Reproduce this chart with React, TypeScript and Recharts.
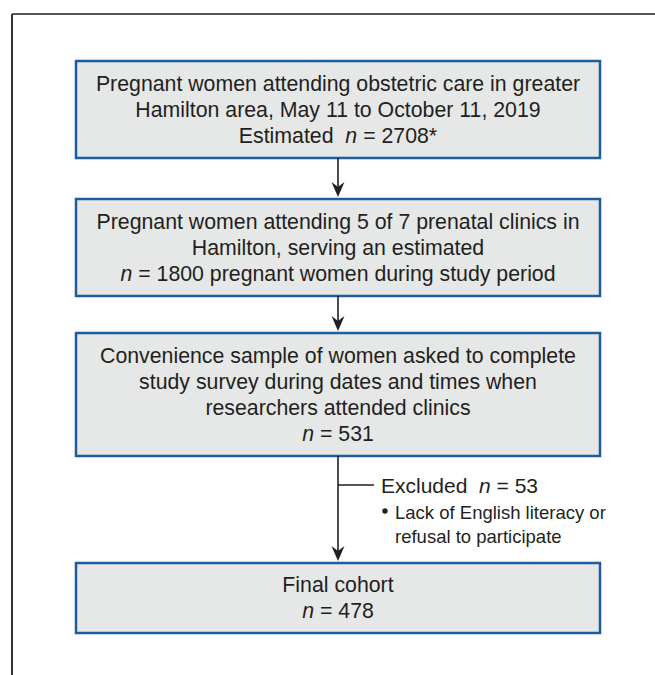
import React from "react";
import { ComposedChart, XAxis, YAxis, ReferenceArea, ReferenceLine } from "recharts";

// ---- data (text and counts) ----
const stageTitles: string[][] = [
  ["Pregnant women attending obstetric care in greater", "Hamilton area, May 11 to October 11, 2019", "Estimated  n = {N}*"],
  ["Pregnant women attending 5 of 7 prenatal clinics in", "Hamilton, serving an estimated", "n = {N} pregnant women during study period"],
  ["Convenience sample of women asked to complete", "study survey during dates and times when", "researchers attended clinics", "n = {N}"],
  ["Final cohort", "n = {N}"],
];
const stageN: number[] = [2708, 1800, 531, 478];
const excludedLabel = "Excluded";
const excludedN = 53;
const excludedReasons: string[] = ["Lack of English literacy or", "refusal to participate"];

// ---- layout (page geometry, in axis units = px) ----
const W = 655;
const H = 675;
const boxX: [number, number] = [76, 600];
const boxY: [number, number][] = [
  [61, 158],
  [199, 296],
  [333, 456],
  [563, 633],
];
const spineX = 338;
const branchY = 485;
const branchEndX = 374;
const frameX = 12;
const frameY = 14;

const FONT = "'Liberation Sans', Arial, Helvetica, sans-serif";
const TEXT = "#231f20";
const BOX_FILL = "#e6e7e7";
const BOX_STROKE = "#1d5c9e";
const LINE_H = 26;

function renderLine(str: string, n: number, key: number, x: number, y: number, size: number) {
  const s = str.replace("{N}", String(n));
  const parts = s.split(/(\bn(?= =))/);
  return (
    <text key={key} x={x} y={y} textAnchor="middle" dominantBaseline="central" fontFamily={FONT} fontSize={size} fill={TEXT} style={{ whiteSpace: "pre" }}>
      {parts.map((p, i) =>
        p === "n" ? (
          <tspan key={i} fontStyle="italic">n</tspan>
        ) : (
          <tspan key={i}>{p}</tspan>
        )
      )}
    </text>
  );
}

const makeBoxLabel = (idx: number) => (props: any) => {
  const vb = props.viewBox || {};
  const cx = vb.x + vb.width / 2;
  const cy = vb.y + vb.height / 2;
  const lines = stageTitles[idx];
  const start = cy - ((lines.length - 1) * LINE_H) / 2;
  return <g>{lines.map((l, i) => renderLine(l, stageN[idx], i, cx, start + i * LINE_H, 21.3))}</g>;
};

const arrowShape = (props: any) => {
  const { x1, y1, x2, y2 } = props;
  const tipY = y2 - 2;
  return (
    <g>
      <line x1={x1} y1={y1} x2={x2} y2={tipY - 6} stroke={TEXT} strokeWidth={1.6} />
      <polygon points={`${x2},${tipY} ${x2 - 6.5},${tipY - 15} ${x2},${tipY - 10} ${x2 + 6.5},${tipY - 15}`} fill={TEXT} />
    </g>
  );
};

const branchShape = (props: any) => {
  const { x1, y1, x2, y2 } = props;
  const tx = x2 + 7;
  return (
    <g>
      <line x1={x1} y1={y1} x2={x2} y2={y2} stroke={TEXT} strokeWidth={1.4} />
      <text x={tx} y={y2} dominantBaseline="central" fontFamily={FONT} fontSize={21} fill={TEXT} style={{ whiteSpace: "pre" }}>
        <tspan>{excludedLabel + "  "}</tspan>
        <tspan fontStyle="italic">n</tspan>
        <tspan>{" = " + excludedN}</tspan>
      </text>
      {excludedReasons.map((r, i) => (
        <g key={i}>
          {i === 0 && <circle cx={tx + 4} cy={y2 + 26} r={2.7} fill={TEXT} />}
          <text x={tx + 14} y={y2 + 27 + i * 24} dominantBaseline="central" fontFamily={FONT} fontSize={18.5} fill={TEXT}>
            {r}
          </text>
        </g>
      ))}
    </g>
  );
};

const plainLine = (color: string, width: number) => (props: any) => {
  const { x1, y1, x2, y2 } = props;
  return <line x1={x1} y1={y1} x2={x2} y2={y2} stroke={color} strokeWidth={width} />;
};

export default function App() {
  return (
    <div style={{ position: "absolute", left: 0, top: 0, width: W, height: H, background: "#fff" }}>
      <ComposedChart width={W} height={H} data={[]} margin={{ top: 0, right: 0, bottom: 0, left: 0 }}>
        <XAxis type="number" dataKey="x" domain={[0, W]} hide allowDataOverflow />
        <YAxis type="number" dataKey="y" domain={[0, H]} reversed hide allowDataOverflow />
        {/* frame */}
        <ReferenceLine segment={[{ x: frameX, y: frameY }, { x: W, y: frameY }]} shape={plainLine("#555555", 2)} ifOverflow="visible" />
        <ReferenceLine segment={[{ x: frameX, y: frameY }, { x: frameX, y: H }]} shape={plainLine("#333333", 2)} ifOverflow="visible" />
        {/* arrows */}
        {boxY.slice(0, -1).map((b, i) => (
          <ReferenceLine
            key={"a" + i}
            segment={[{ x: spineX, y: b[1] }, { x: spineX, y: boxY[i + 1][0] }]}
            shape={arrowShape}
            ifOverflow="visible"
          />
        ))}
        <ReferenceLine segment={[{ x: spineX, y: branchY }, { x: branchEndX, y: branchY }]} shape={branchShape} ifOverflow="visible" />
        {/* boxes */}
        {boxY.map((b, i) => (
          <ReferenceArea
            key={"b" + i}
            x1={boxX[0]}
            x2={boxX[1]}
            y1={b[0]}
            y2={b[1]}
            fill={BOX_FILL}
            fillOpacity={1}
            stroke={BOX_STROKE}
            strokeWidth={2.5}
            ifOverflow="visible"
            label={makeBoxLabel(i)}
          />
        ))}
      </ComposedChart>
    </div>
  );
}
